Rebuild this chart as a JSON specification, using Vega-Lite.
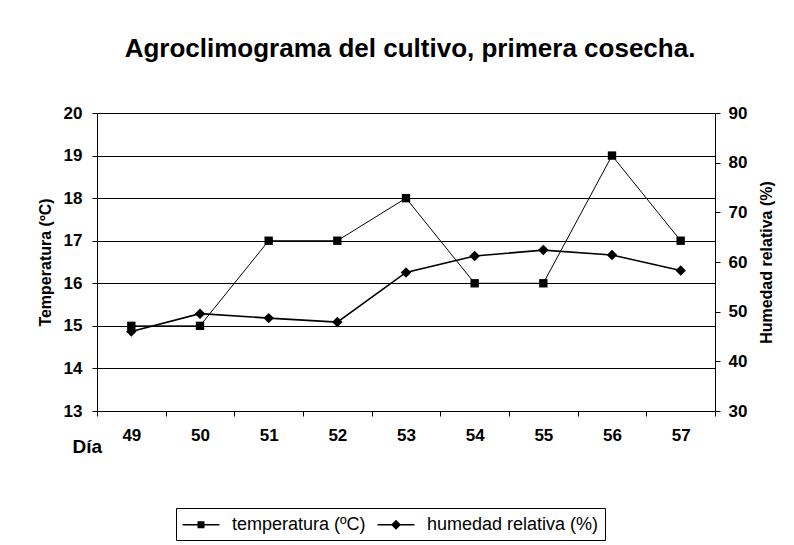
{
  "$schema": "https://vega.github.io/schema/vega-lite/v6.json",
  "width": 618,
  "height": 298,
  "autosize": {"type": "none"},
  "padding": {"left": 97, "top": 113, "right": 79, "bottom": 134},
  "background": "white",
  "config": {
    "font": "Liberation Sans",
    "view": {"stroke": null},
    "axis": {
      "domainColor": "black",
      "tickColor": "black",
      "labelColor": "black",
      "titleColor": "black",
      "labelFont": "Liberation Sans",
      "titleFont": "Liberation Sans",
      "labelFontWeight": "bold",
      "titleFontWeight": "bold"
    }
  },
  "title": {
    "text": "Agroclimograma del cultivo, primera cosecha.",
    "fontSize": 26,
    "fontWeight": "bold",
    "color": "black",
    "font": "Liberation Sans",
    "anchor": "middle",
    "frame": "group",
    "offset": 42,
    "dx": 4
  },
  "data": {
    "values": [
      {"dia": "49", "temperatura": 15, "humedad": 46.0},
      {"dia": "50", "temperatura": 15, "humedad": 49.6},
      {"dia": "51", "temperatura": 17, "humedad": 48.7},
      {"dia": "52", "temperatura": 17, "humedad": 47.9},
      {"dia": "53", "temperatura": 18, "humedad": 57.9},
      {"dia": "54", "temperatura": 16, "humedad": 61.2},
      {"dia": "55", "temperatura": 16, "humedad": 62.4},
      {"dia": "56", "temperatura": 19, "humedad": 61.4},
      {"dia": "57", "temperatura": 17, "humedad": 58.3}
    ]
  },
  "encoding": {
    "x": {
      "field": "dia",
      "type": "ordinal",
      "scale": {"paddingInner": 0, "paddingOuter": 0},
      "axis": {
        "labelAngle": 0,
        "labelFontSize": 17,
        "labelPadding": 11,
        "tickSize": 5,
        "tickBand": "extent",
        "grid": false,
        "title": "Día",
        "titleFontSize": 19,
        "titleAlign": "left",
        "titleBaseline": "middle",
        "titleX": -25,
        "titleY": 35
      }
    }
  },
  "layer": [
    {
      "layer": [
        {
          "mark": {"type": "line", "color": "black", "strokeWidth": 1},
          "encoding": {
            "y": {
              "field": "temperatura",
              "type": "quantitative",
              "scale": {"domain": [13, 20], "nice": false, "zero": false},
              "axis": {
                "values": [13, 14, 15, 16, 17, 18, 19, 20],
                "grid": true,
                "gridColor": "black",
                "gridWidth": 1,
                "gridOpacity": 1,
                "labelFontSize": 17,
                "tickSize": 5,
                "labelPadding": 10,
                "title": "Temperatura (ºC)",
                "titleFontSize": 16,
                "titlePadding": 10
              }
            }
          }
        },
        {
          "mark": {"type": "point", "filled": true, "shape": "square", "size": 70, "opacity": 1, "color": "black"},
          "encoding": {
            "y": {"field": "temperatura", "type": "quantitative"}
          }
        }
      ]
    },
    {
      "layer": [
        {
          "mark": {"type": "line", "color": "black", "strokeWidth": 1.6},
          "encoding": {
            "y": {
              "field": "humedad",
              "type": "quantitative",
              "scale": {"domain": [30, 90], "nice": false, "zero": false},
              "axis": {
                "orient": "right",
                "values": [30, 40, 50, 60, 70, 80, 90],
                "grid": false,
                "labelFontSize": 17,
                "tickSize": 5,
                "labelPadding": 8,
                "title": "Humedad relativa (%)",
                "titleFontSize": 16,
                "titleAngle": 270,
                "titleBaseline": "top",
                "titlePadding": 12
              }
            }
          }
        },
        {
          "mark": {"type": "point", "filled": true, "shape": "diamond", "size": 110, "opacity": 1, "color": "black"},
          "encoding": {
            "y": {"field": "humedad", "type": "quantitative"}
          }
        }
      ]
    },
    {
      "transform": [{"filter": "false"}],
      "layer": [
        {
          "mark": {"type": "point", "filled": true, "color": "black"},
          "encoding": {
            "shape": {
              "datum": "temperatura (ºC)",
              "scale": {
                "domain": ["temperatura (ºC)", "humedad relativa (%)"],
                "range": [
                  "M-1,-0.065H2.7V0.065H-1Z M0.5,-0.35H1.2V0.35H0.5Z",
                  "M-1,-0.065H2.7V0.065H-1Z M0.85,-0.5L1.35,0L0.85,0.5L0.35,0Z"
                ]
              },
              "legend": {
                "title": null,
                "orient": "none",
                "legendX": 79,
                "legendY": 395,
                "direction": "horizontal",
                "strokeColor": "black",
                "padding": 6,
                "labelFontSize": 18,
                "labelFont": "Liberation Sans",
                "labelColor": "black",
                "labelLimit": 400,
                "labelOffset": 29,
                "columnPadding": 10,
                "symbolSize": 400,
                "symbolOpacity": 1,
                "symbolFillColor": "black",
                "symbolStrokeColor": "black",
                "symbolStrokeWidth": 0.5
              }
            }
          }
        },
        {
          "mark": {"type": "point", "filled": true, "color": "black"},
          "encoding": {
            "shape": {"datum": "humedad relativa (%)"}
          }
        }
      ]
    }
  ],
  "resolve": {"scale": {"y": "independent"}}
}
